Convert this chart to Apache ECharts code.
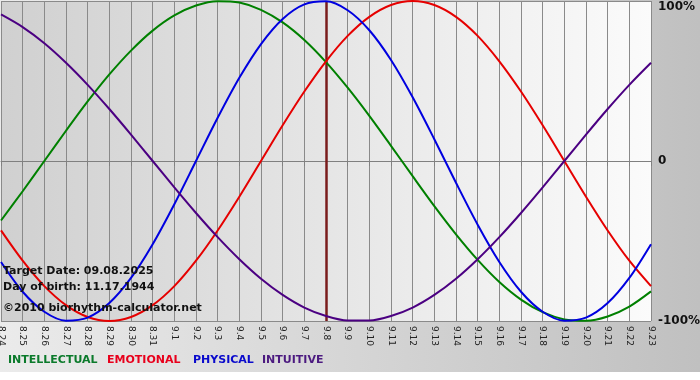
<!DOCTYPE html>
<html>
<head>
<meta charset="utf-8">
<script src="https://cdn.jsdelivr.net/npm/echarts@6/dist/echarts.min.js"></script>
<style>html,body{margin:0;padding:0;}#c{width:700px;height:380px;}</style>
</head>
<body>
<div id="c"></div>
<script>
var categories = ['8.24','8.25','8.26','8.27','8.28','8.29','8.30','8.31','9.1','9.2','9.3','9.4','9.5','9.6','9.7','9.8','9.9','9.10','9.11','9.12','9.13','9.14','9.15','9.16','9.17','9.18','9.19','9.20','9.21','9.22','9.23'];
var intellectual = [-37.2,-18.9,0,18.9,37.2,54.1,69.0,81.5,91.0,97.2,99.9,99.0,94.5,86.6,75.6,61.8,45.8,28.2,9.5,-9.5,-28.2,-45.8,-61.8,-75.6,-86.6,-94.5,-99.0,-99.9,-97.2,-91.0,-81.5];
var emotional = [-43.4,-62.3,-78.2,-90.1,-97.5,-100,-97.5,-90.1,-78.2,-62.3,-43.4,-22.3,0,22.3,43.4,62.3,78.2,90.1,97.5,100,97.5,90.1,78.2,62.3,43.4,22.3,0,-22.3,-43.4,-62.3,-78.2];
var physical = [-63.1,-81.7,-94.2,-99.8,-97.9,-88.8,-73.1,-52.0,-27.0,0,27.0,52.0,73.1,88.8,97.9,99.8,94.2,81.7,63.1,39.8,13.6,-13.6,-39.8,-63.1,-81.7,-94.2,-99.8,-97.9,-88.8,-73.1,-52.0];
var intuitive = [91.6,83.7,73.6,61.4,47.6,32.5,16.5,0,-16.5,-32.5,-47.6,-61.4,-73.6,-83.7,-91.6,-96.9,-99.7,-99.7,-96.9,-91.6,-83.7,-73.6,-61.4,-47.6,-32.5,-16.5,0,16.5,32.5,47.6,61.4];
var seriesNames = ['INTELLECTUAL','EMOTIONAL','PHYSICAL','INTUITIVE'];
var yTicks = {'100':'100%','0':'0','-100':'-100%'};
var targetDay = '9.8';
var infoLines = ['Target Date: 09.08.2025','Day of birth: 11.17.1944','\u00a92010 biorhythm-calculator.net'];

var FONT = 'DejaVu Sans';
var lineColors = ['#008000','#e60000','#0000e0','#4b0082'];
var legendColors = ['#0b7a2b','#e8001c','#0a0acc','#4c1a80'];
var legendLeft = [8,107,193,262];
var chart = echarts.init(document.getElementById('c'));
var dataSets = [intellectual, emotional, physical, intuitive];
var s = dataSets.map(function(d,i){
  return {name:seriesNames[i], type:'line', data:d, smooth:0.3, symbol:'none',
    lineStyle:{color:lineColors[i], width:2}, itemStyle:{color:lineColors[i]}, z:3, clip:true};
});
s[0].markLine = {silent:true, symbol:'none', label:{show:false}, z:2,
  lineStyle:{color:'#7a1c1c', width:2.5, type:'solid'}, data:[{xAxis:targetDay}]};

var graphics = [
  {type:'rect', left:0, top:372, shape:{width:700,height:8}, style:{fill:'#ffffff'}, silent:true},
  {type:'text', left:3, top:266, z:10, style:{text:infoLines[0], font:'bold 11px "DejaVu Sans"', fill:'#111'}},
  {type:'text', left:3, top:282, z:10, style:{text:infoLines[1], font:'bold 11px "DejaVu Sans"', fill:'#111'}},
  {type:'text', left:3, top:303, z:10, style:{text:infoLines[2], font:'bold 11px "DejaVu Sans"', fill:'#111'}}
];
seriesNames.forEach(function(n,i){
  graphics.push({type:'text', left:legendLeft[i], top:355, z:10,
    style:{text:n, font:'bold 11px "DejaVu Sans"', fill:legendColors[i]}});
});

chart.setOption({
  animation:false,
  backgroundColor:{type:'linear',x:0,y:0,x2:1,y2:0,colorStops:[{offset:0,color:'#ebebeb'},{offset:1,color:'#c0c0c0'}]},
  grid:{left:1,right:49,top:1,bottom:59,show:true,borderWidth:0,containLabel:false,outerBoundsMode:'none',
    backgroundColor:{type:'linear',x:0,y:0,x2:1,y2:0,colorStops:[{offset:0,color:'#d0d0d0'},{offset:1,color:'#fbfbfb'}]}},
  legend:{show:false},
  xAxis:{type:'category', data:categories, boundaryGap:false,
    axisLine:{show:true, lineStyle:{color:'#808080', width:1}},
    axisTick:{show:true, interval:0, length:5, lineStyle:{color:'#808080'}},
    splitLine:{show:true, interval:0, lineStyle:{color:'#8a8a8a', width:1}},
    axisLabel:{interval:0, rotate:-90, margin:5, fontFamily:FONT, fontSize:9, color:'#222', hideOverlap:false}},
  yAxis:{type:'value', position:'right', min:-100, max:100, interval:100,
    axisLine:{show:false}, axisTick:{show:false},
    splitLine:{show:true, lineStyle:{color:'#8a8a8a', width:1}},
    axisLabel:{margin:7, fontFamily:FONT, fontSize:12, fontWeight:'bold', color:'#111',
      verticalAlignMaxLabel:'top', verticalAlignMinLabel:'middle',
      formatter:function(v){return yTicks[String(v)];}}},
  graphic:graphics,
  series:s
});
</script>
</body>
</html>
